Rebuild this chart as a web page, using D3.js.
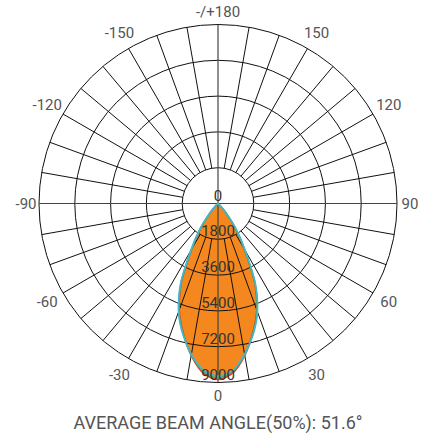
<!DOCTYPE html>
<html><head><meta charset="utf-8">
<script src="https://cdn.jsdelivr.net/npm/d3@7"></script>
<style>body{margin:0;background:#fff}svg{display:block}</style>
</head><body><svg id="c" width="422" height="437"></svg>
<script>
// Angular tick labels (degrees from nadir, clockwise on screen to the right)
const angleTicks = [0, 30, 60, 90, 120, 150, 180, -150, -120, -90, -60, -30];
const angleLabels = ["0", "30", "60", "90", "120", "150", "-/+180", "-150", "-120", "-90", "-60", "-30"];
// Radial ring values (cd)
const ringValues = [1800, 3600, 5400, 7200, 9000];
const ringLabels = ["0", "1800", "3600", "5400", "7200", "9000"];
// Measured gamma angles and intensities (cd)
const gamma = [-50, -45, -40, -35, -30, -25, -20, -15, -10, -5, 0, 5, 10, 15, 20, 25, 30, 35, 40, 45, 50];
const seriesC0 = [0, 150, 650, 1550, 2650, 4350, 5700, 6750, 7750, 8550, 8850, 8550, 7750, 6750, 5700, 4350, 2650, 1550, 650, 150, 0];
const seriesC45 = [0, 140, 620, 1530, 2650, 4380, 5750, 6780, 7720, 8480, 8760, 8480, 7720, 6780, 5750, 4380, 2650, 1530, 620, 140, 0];
const seriesC90 = [0, 160, 700, 1650, 2750, 4450, 5800, 6820, 7700, 8420, 8680, 8420, 7700, 6820, 5800, 4450, 2750, 1650, 700, 160, 0];
const title = "AVERAGE BEAM ANGLE(50%): 51.6°";

const svg = d3.select("#c");
const cx = 218, cy = 203.5, R = 179;
const r = d3.scaleLinear().domain([0, 9000]).range([0, R]);
const rad = d => d * Math.PI / 180;
const g = svg.append("g").attr("transform", `translate(${cx},${cy})`);

// fill
const line = d3.lineRadial().angle(d => Math.PI - rad(d[0])).radius(d => r(d[1])).curve(d3.curveCardinalClosed.tension(0.2));
g.append("path").datum(gamma.map((a, i) => [a, seriesC0[i]]))
  .attr("d", line).attr("fill", "#F5871F").attr("stroke", "none");

// rings
g.selectAll("circle.ring").data(ringValues).enter().append("circle")
  .attr("r", d => r(d)).attr("fill", "none").attr("stroke", "#111").attr("stroke-width", 1);
// spokes every 10 degrees
const spokes = d3.range(-170, 190, 10).filter(a => a % 90 !== 0);
g.selectAll("line.sp").data(spokes).enter().append("line")
  .attr("x1", d => r(1800) * Math.sin(rad(d))).attr("y1", d => r(1800) * Math.cos(rad(d)))
  .attr("x2", d => R * Math.sin(rad(d))).attr("y2", d => R * Math.cos(rad(d)))
  .attr("stroke", "#111").attr("stroke-width", 1);
// main axes
[0, 90].forEach(a => {
  g.append("line")
    .attr("x1", -R * Math.sin(rad(a))).attr("y1", -R * Math.cos(rad(a)))
    .attr("x2", R * Math.sin(rad(a))).attr("y2", R * Math.cos(rad(a)))
    .attr("stroke", "#444").attr("stroke-width", 1.2);
});

// outlines
const oline = d3.lineRadial().angle(d => Math.PI - rad(d[0])).radius(d => r(d[1])).curve(d3.curveCardinalClosed.tension(0.2));
[[seriesC0, "#E8312B"], [seriesC45, "#4CAF50"], [seriesC90, "#3FB8D6"]].forEach(([s, c]) => {
  g.append("path").datum(gamma.map((a, i) => [a, s[i]]))
    .attr("d", oline).attr("fill", "none").attr("stroke", c).attr("stroke-width", 1.6);
});

// ring labels
g.selectAll("text.rl").data(ringLabels).enter().append("text")
  .attr("x", 0).attr("y", (d, i) => r(i * 1800) - 3)
  .attr("text-anchor", "middle").attr("font-family", "Roboto").attr("font-size", 15)
  .attr("fill", "#333").text(d => d);

// angle labels
g.selectAll("text.al").data(angleTicks).enter().append("text")
  .attr("x", d => (192 + 6 * Math.abs(Math.sin(rad(2 * d)))) * Math.sin(rad(d)))
  .attr("y", d => (192 + 6 * Math.abs(Math.sin(rad(2 * d)))) * Math.cos(rad(d)))
  .attr("dy", "0.35em").attr("text-anchor", "middle")
  .attr("font-family", "Roboto").attr("font-size", 15).attr("fill", "#555")
  .text((d, i) => angleLabels[i]);

svg.append("text").attr("x", cx).attr("y", 429).attr("text-anchor", "middle")
  .attr("font-family", "Roboto").attr("font-size", 18).attr("fill", "#555").text(title);
</script></body></html>
